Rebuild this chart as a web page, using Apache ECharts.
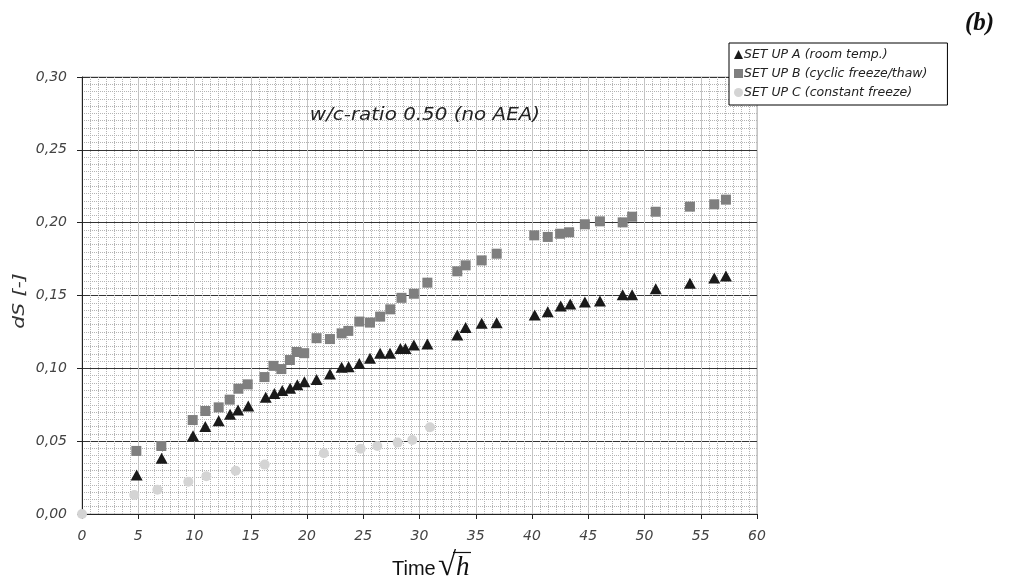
<!DOCTYPE html>
<html><head><meta charset="utf-8">
<script src="https://cdn.jsdelivr.net/npm/echarts@6/dist/echarts.min.js"></script>
<style>html,body{margin:0;padding:0;background:#fff}#c{width:1011px;height:585px}</style>
</head><body><div id="c"></div>
<script>
const xTicks = [0,5,10,15,20,25,30,35,40,45,50,55,60];
const yTicks = [0,0.05,0.10,0.15,0.20,0.25,0.30];
const seriesNames = ['SET UP A (room temp.)','SET UP B (cyclic freeze/thaw)','SET UP C (constant freeze)'];
const A_x = [4.86,7.08,9.87,10.96,12.15,13.16,13.87,14.78,16.33,17.1,17.8,18.5,19.14,19.77,20.85,22.04,23.08,23.7,24.65,25.6,26.5,27.38,28.3,28.75,29.5,30.7,33.36,34.1,35.53,36.86,40.24,41.4,42.55,43.4,44.7,46.04,48.06,48.9,51.0,54.04,56.2,57.24];
const A_y = [0.0268,0.0382,0.0538,0.060,0.064,0.0684,0.0714,0.0741,0.0801,0.0828,0.0847,0.0863,0.0888,0.0908,0.0923,0.0961,0.1007,0.1011,0.1034,0.1069,0.1103,0.1103,0.1136,0.1136,0.116,0.1167,0.1229,0.1281,0.1309,0.1313,0.1366,0.1389,0.1428,0.1442,0.1455,0.1462,0.1506,0.1506,0.1547,0.1584,0.162,0.1634];
const B_x = [4.83,7.05,9.84,10.96,12.15,13.13,13.9,14.73,16.22,17.02,17.72,18.48,19.08,19.75,20.85,22.04,23.08,23.67,24.65,25.6,26.5,27.4,28.4,29.5,30.7,33.36,34.1,35.53,36.86,40.2,41.4,42.5,43.3,44.7,46.04,48.06,48.9,51.0,54.04,56.2,57.24];
const B_y = [0.0433,0.0467,0.0645,0.0707,0.0732,0.0785,0.086,0.089,0.094,0.1017,0.0995,0.1057,0.1112,0.1104,0.1207,0.1201,0.124,0.1257,0.1321,0.1314,0.1355,0.1405,0.1484,0.1512,0.1588,0.1666,0.1707,0.1741,0.1787,0.1913,0.1902,0.1924,0.1934,0.1989,0.2009,0.2002,0.2041,0.2075,0.211,0.2126,0.2158];
const C_x = [0,4.65,6.7,9.45,11.05,13.66,16.24,21.5,24.77,26.25,28.06,29.36,30.93];
const C_y = [0,0.013,0.0167,0.0222,0.0259,0.0297,0.0339,0.0417,0.0448,0.0467,0.049,0.0508,0.0595];

const zip = (xs, ys) => xs.map((x, i) => [x, ys[i]]);
const chart = echarts.init(document.getElementById('c'));
const lblFont = {fontFamily:'DejaVu Sans', fontStyle:'italic', fontSize:14, color:'#444'};
chart.setOption({
  animation:false,
  backgroundColor:'#fff',
  grid:{left:82, right:254, top:77, bottom:71, show:true, borderColor:'#b0b0b0', borderWidth:1, backgroundColor:'transparent'},
  legend:{orient:'vertical', left:729, top:43, padding:[4,20,5,5], itemGap:4, itemWidth:9, itemHeight:9,
    backgroundColor:'#fff', borderColor:'#000', borderWidth:1, borderRadius:0,
    textStyle:{fontFamily:'DejaVu Sans', fontStyle:'italic', fontSize:12.5, color:'#222', lineHeight:15, padding:[0,0,0,-4]},
    data:seriesNames},
  xAxis:{type:'value', min:0, max:60, interval:5,
    axisLine:{show:true, onZero:false, lineStyle:{color:'#222', width:1}},
    axisTick:{show:true, length:5, lineStyle:{color:'#222'}},
    axisLabel:Object.assign({margin:15, formatter:v=>xTicks.includes(v)?String(v):''}, lblFont),
    splitLine:{show:true, lineStyle:{color:'#c4c4c4', width:1}},
    minorTick:{show:false, splitNumber:7},
    minorSplitLine:{show:true, lineStyle:{color:'#b4b4b4', width:1, type:[1,1]}}},
  yAxis:{type:'value', min:0, max:0.30, interval:0.05,
    axisLine:{show:true, onZero:false, lineStyle:{color:'#222', width:1}},
    axisTick:{show:true, length:5, lineStyle:{color:'#222'}},
    axisLabel:Object.assign({margin:15, formatter:v=>{const t=yTicks.find(k=>Math.abs(k-v)<1e-9);return t===undefined?'':t.toFixed(2).replace('.',',');}}, lblFont),
    splitLine:{show:true, lineStyle:{color:'#333', width:1}},
    minorTick:{show:false, splitNumber:10},
    minorSplitLine:{show:true, lineStyle:{color:'#b4b4b4', width:1, type:[1,1]}}},
  series:[
    {name:seriesNames[0], type:'scatter', symbol:'triangle', symbolSize:[12,11], itemStyle:{color:'#1a1a1a', opacity:1}, data:zip(A_x,A_y), z:4},
    {name:seriesNames[1], type:'scatter', symbol:'rect', symbolSize:10, itemStyle:{color:'#7f7f7f', opacity:1}, data:zip(B_x,B_y), z:3},
    {name:seriesNames[2], type:'scatter', symbol:'circle', symbolSize:10, itemStyle:{color:'#d4d4d4', opacity:1}, data:zip(C_x,C_y), z:5}
  ],
  graphic:[
    {type:'text', x:425, y:116, scaleX:1.17, z:10, style:{text:'w/c-ratio 0.50 (no AEA)', font:'italic 17px "DejaVu Sans"', fill:'#222', textAlign:'center', textVerticalAlign:'middle'}},
    {type:'text', left:965, top:11, style:{text:'(b)', font:'italic bold 25px "Liberation Serif"', fill:'#111'}},
    {type:'text', x:20, y:301, rotation:Math.PI/2, scaleX:1.35, style:{text:'dS [-]', font:'italic 15px "DejaVu Sans"', fill:'#333', textAlign:'center', textVerticalAlign:'middle'}},
    {type:'text', x:392, y:569, style:{text:'Time', font:'20px "Liberation Sans"', fill:'#111', textAlign:'left', textVerticalAlign:'middle'}},
    {type:'text', left:438, top:550, style:{text:'\u221A', font:'33px "Liberation Serif"', fill:'#111'}},
    {type:'text', left:456, top:554, style:{text:'h', font:'italic 27px "Liberation Serif"', fill:'#111'}},
    {type:'line', shape:{x1:453, y1:552.5, x2:471, y2:552.5}, style:{stroke:'#111', lineWidth:1.2}}
  ]
});
</script></body></html>
